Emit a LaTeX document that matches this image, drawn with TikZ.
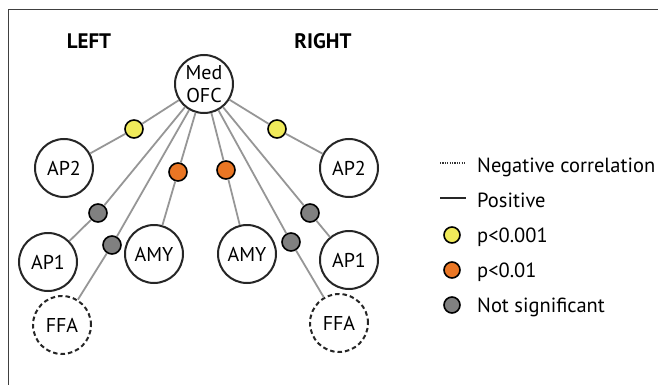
\documentclass[tikz,border=0pt]{standalone}
\usepackage{fontspec}
\setmainfont{PT Sans}

\definecolor{sigyellow}{RGB}{240,234,90}
\definecolor{sigorange}{RGB}{234,118,36}
\definecolor{siggray}{RGB}{128,128,128}
\definecolor{linkgray}{RGB}{150,150,150}

\begin{document}
\begin{tikzpicture}[x=1pt, y=-1pt, font=\fontsize{20}{26}\selectfont,
    region/.style={circle, draw=black!85, line width=2pt, fill=white,
      minimum size=58pt, inner sep=0pt, align=center},
    ffa/.style={region, dash pattern=on 4.5pt off 3pt},
    sig/.style={circle, draw=black, line width=1.6pt, minimum size=18pt, inner sep=0pt},
    hi/.style={sig, fill=sigyellow},
    mid/.style={sig, fill=sigorange},
    ns/.style={sig, fill=siggray},
    link/.style={draw=linkgray, line width=1.8pt},
    key/.style={anchor=base west, inner sep=0pt, font=\fontsize{20.5}{24}\selectfont}]
  \useasboundingbox (0,0) rectangle (658,385);
  \draw[black!75, line width=1pt] (8,385) |- (658,10);

  \node[font=\fontsize{21}{24}\selectfont\bfseries] (lefthead) at (89,41) {LEFT};
  \node[font=\fontsize{21}{24}\selectfont\bfseries] (righthead) at (323,41) {RIGHT};

  % regions
  \node[region] (ofc) at (204,84) {Med\\[-3pt]OFC};
  \node[region] (ap2l) at (64,168) {AP2};
  \node[region] (ap1l) at (48,262) {AP1};
  \node[region] (amyl) at (154,254) {AMY};
  \node[ffa] (ffal) at (62,325) {FFA};
  \node[region] (amyr) at (247,254) {AMY};
  \node[region] (ap2r) at (349,168) {AP2};
  \node[region] (ap1r) at (349,260) {AP1};
  \node[ffa] (ffar) at (339,323) {FFA};

  % significance dots
  \node[hi] (hil) at (134,129) {};
  \node[hi] (hir) at (277,129) {};
  \node[mid] (midl) at (178,172) {};
  \node[mid] (midr) at (226,170) {};
  \node[ns] (nsl1) at (98,213) {};
  \node[ns] (nsl2) at (112,245) {};
  \node[ns] (nsr1) at (310,213) {};
  \node[ns] (nsr2) at (291,242) {};

  \draw[link] (ofc) -- (hil) -- (ap2l);
  \draw[link] (ofc) -- (nsl1) -- (ap1l);
  \draw[link] (ofc) -- (nsl2) -- (ffal);
  \draw[link] (ofc) -- (midl) -- (amyl);
  \draw[link] (ofc) -- (midr) -- (amyr);
  \draw[link] (ofc) -- (nsr2) -- (ffar);
  \draw[link] (ofc) -- (nsr1) -- (ap1r);
  \draw[link] (ofc) -- (hir) -- (ap2r);

  % legend
  \node[key] (negkey) at (477,172) {Negative correlation};
  \node[key] (poskey) at (477,207) {Positive};
  \node[key] (hikey) at (477,242) {p<0.001};
  \node[key] (midkey) at (477,277) {p<0.01};
  \node[key] (nskey) at (477,312) {Not significant};
  \draw[black!80, line width=1.2pt, dash pattern=on 1.2pt off 1.2pt]
    ([xshift=-37pt,yshift=9pt]negkey.base west) -- ([xshift=-11pt,yshift=9pt]negkey.base west);
  \draw[black!85, line width=2pt]
    ([xshift=-37pt,yshift=9pt]poskey.base west) -- ([xshift=-11pt,yshift=9pt]poskey.base west);
  \node[hi, minimum size=16pt] at ([xshift=-25pt,yshift=7pt]hikey.base west) {};
  \node[mid, minimum size=16pt] at ([xshift=-25pt,yshift=7pt]midkey.base west) {};
  \node[ns, minimum size=16pt] at ([xshift=-25pt,yshift=7pt]nskey.base west) {};
\end{tikzpicture}
\end{document}
